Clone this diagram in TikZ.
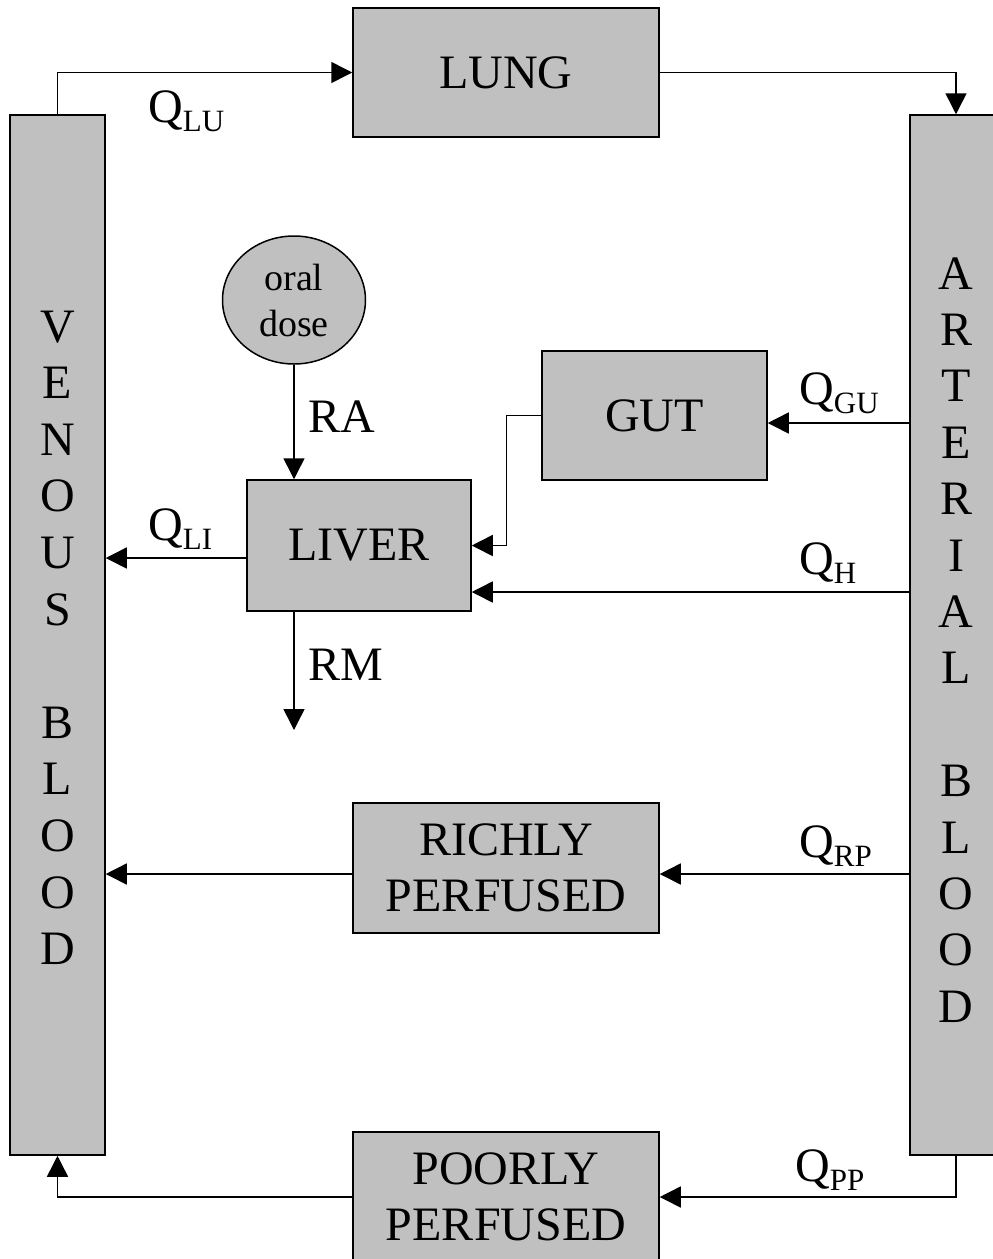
\documentclass[tikz,border=0pt]{standalone}
\usepackage{fontspec}
\setmainfont{Liberation Serif}
\usetikzlibrary{arrows.meta,shapes.geometric}
\definecolor{boxgray}{HTML}{C0C0C0}
\newcommand\bigfont{\fontsize{48}{56.5}\selectfont}
\newcommand\qlab[1]{Q\raisebox{-9pt}{\fontsize{31}{31}\selectfont #1}}

\begin{document}
\begin{tikzpicture}[x=1pt,y=-1pt,
  organ/.style={draw, fill=boxgray, line width=1.5pt, inner sep=0pt, font=\bigfont, align=center},
  flow/.style={line width=1.5pt, -{Triangle[length=21pt,width=21pt]}},
  lbl/.style={anchor=base west, inner sep=0pt, font=\bigfont},
  ltr/.style={anchor=base, inner sep=0pt, font=\bigfont}]
\useasboundingbox (0,0) rectangle (993,1259);
\clip (0,0) rectangle (993,1259);

% blood pools
\node[organ, minimum width=95pt, minimum height=1040pt] (ven) at (57.5,635) {};
\node[organ, minimum width=92pt, minimum height=1040pt] (art) at (956,635) {};
\foreach \c/\i in {V/0,E/1,N/2,O/3,U/4,S/5,B/7,L/8,O/9,O/10,D/11}
  \node[ltr] at (57.5,{342+\i*56.6}) {\c};
\foreach \c/\i in {A/0,R/1,T/2,E/3,R/4,I/5,A/6,L/7,B/9,L/10,O/11,O/12,D/13}
  \node[ltr] at (956,{289+\i*56.4}) {\c};

% tissue compartments
\node[organ, minimum width=306pt, minimum height=129pt] (lung) at (506,72.5) {LUNG};
\node[organ, minimum width=225pt, minimum height=129pt] (gut) at (654.5,415.5) {GUT};
\node[organ, minimum width=224pt, minimum height=131pt] (liver) at (359,545.5) {LIVER};
\node[organ, minimum width=306pt, minimum height=130pt] (rich) at (506,868) {RICHLY\\PERFUSED};
\node[organ, minimum width=306pt, minimum height=130pt] (poor) at (506,1197) {POORLY\\PERFUSED};
\node[draw, fill=boxgray, line width=1.5pt, ellipse, inner sep=0pt,
      minimum width=143pt, minimum height=128pt, align=center,
      font=\fontsize{38}{46}\selectfont] (oral) at (294,300) {oral\\dose};

% attachment points
\coordinate (gin) at ([yshift=-7.5pt]gut.east);
\coordinate (hin) at ([yshift=-46.5pt]liver.east);
\coordinate (liout) at ([yshift=-12.5pt]liver.west);
\coordinate (rin) at ([yshift=-6pt]rich.east);
\coordinate (rout) at ([yshift=-6pt]rich.west);
\coordinate (rmend) at (294,730);

% blood flows
\draw[flow] (ven.north) |- (lung.west);
\draw[flow] (lung.east) -| (art.north);
\draw[flow] (art.west |- gin) -- (gin);
\draw[flow] (gut.west) -- ++(-35,0) |- (liver.east);
\draw[flow] (art.west |- hin) -- (hin);
\draw[flow] (liout) -- (ven.east |- liout);
\draw[flow] (oral.south) -- (oral.south |- liver.north);
\draw[flow] (oral.south |- liver.south) -- (rmend);
\draw[flow] (art.west |- rin) -- (rin);
\draw[flow] (rout) -- (ven.east |- rout);
\draw[flow] (art.south) |- (poor.east);
\draw[flow] (poor.west) -| (ven.south);

% labels
\node[lbl] (qlu) at (148,122) {\qlab{LU}};
\node[lbl] (qgu) at (799,404) {\qlab{GU}};
\node[lbl] (qh) at (799,574) {\qlab{H}};
\node[lbl] (qli) at (148,540) {\qlab{LI}};
\node[lbl] (qrp) at (799,857) {\qlab{RP}};
\node[lbl] (qpp) at (795,1181) {\qlab{PP}};
\node[lbl] (ra) at (308,432) {RA};
\node[lbl] (rm) at (308,680) {RM};
\end{tikzpicture}
\end{document}
